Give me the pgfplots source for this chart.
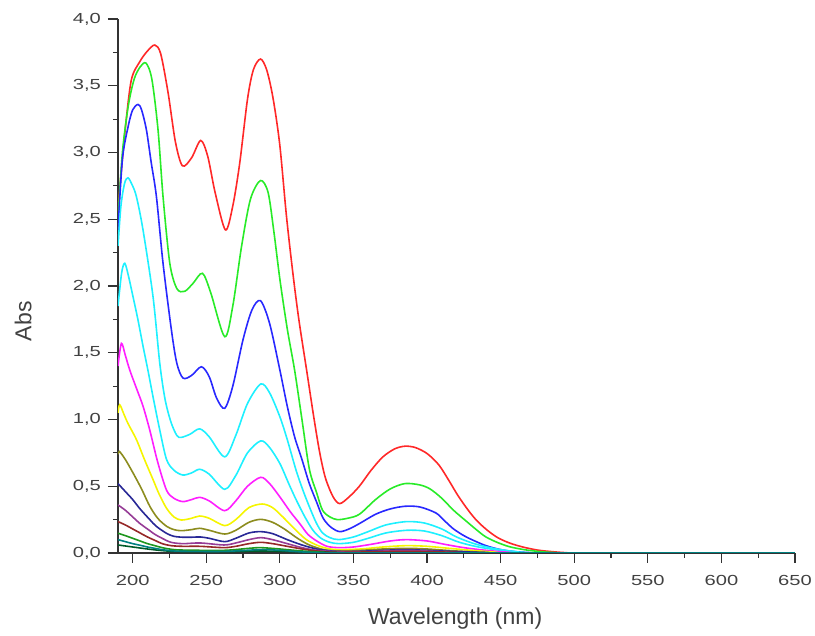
\documentclass[border=0pt]{standalone}
\usepackage{fontspec}
\setmainfont{Liberation Sans}
\usepackage{graphicx}
\usepackage{pgfplots}
\pgfplotsset{compat=1.18}
\definecolor{cRed}{RGB}{255,40,40}
\definecolor{cGreen}{RGB}{40,235,40}
\definecolor{cBlue}{RGB}{40,40,255}
\definecolor{cCyan}{RGB}{30,240,255}
\definecolor{cMag}{RGB}{255,30,255}
\definecolor{cYel}{RGB}{245,245,0}
\definecolor{cDYel}{RGB}{140,140,30}
\definecolor{cNavy}{RGB}{40,40,150}
\definecolor{cPurp}{RGB}{150,60,150}
\definecolor{cWine}{RGB}{150,40,40}
\definecolor{cOlive}{RGB}{30,150,30}
\definecolor{cDCyan}{RGB}{0,128,128}
\definecolor{cDGreen}{RGB}{0,90,40}
\definecolor{txt}{RGB}{65,65,65}
\begin{document}
\begin{tikzpicture}
\path[use as bounding box] (-59pt,-41.5pt) rectangle (348.5pt,276.5pt);
\begin{axis}[
  scale only axis, width=338.5pt, height=267pt,
  xmin=190, xmax=650, ymin=0, ymax=4,
  axis lines=left,
  axis line style={-, line width=0.65pt, black!80},
  xtick={200,250,300,350,400,450,500,550,600,650},
  ytick={0,0.5,1,1.5,2,2.5,3,3.5,4},
  minor x tick num=1, minor y tick num=1,
  tick align=outside, major tick length=5pt, minor tick length=2.5pt,
  every tick/.style={black!80, line width=0.6pt},
  /pgf/number format/assume math mode=true,
  xticklabel={\scalebox{1.38}[1]{\pgfmathprintnumber{\tick}}},
  yticklabel={\scalebox{1.38}[1]{\pgfmathprintnumber[fixed,fixed zerofill,precision=1,use comma]{\tick}}},
  tick label style={font=\fontsize{7.3}{8.5}\selectfont, text=txt},
  xticklabel style={yshift=-2.5pt},
  xlabel={Wavelength (nm)}, ylabel={Abs},
  xlabel style={at={(axis description cs:0.498,-0.122)}, anchor=center, font=\fontsize{11.5}{13}\selectfont, text=txt},
  ylabel style={at={(axis description cs:-0.140,0.434)}, anchor=center, font=\fontsize{11.5}{13}\selectfont, text=txt},
  every axis plot/.append style={line width=0.8pt, smooth, no markers},
]
% red
\addplot[cRed] coordinates {(190,2.55)(191,2.70)(194.6,3.14)(199,3.54)(204.8,3.68)(210,3.76)(215,3.805)(219,3.74)(224,3.45)(229,3.08)(233.8,2.90)(240,2.96)(246.2,3.09)(251,2.97)(256,2.70)(263,2.42)(268,2.60)(272.7,2.92)(278,3.40)(282,3.62)(286.8,3.70)(291,3.62)(295.3,3.41)(299.9,3.06)(304.5,2.52)(309,2.08)(313,1.74)(318.3,1.36)(323,1.02)(327.1,0.75)(331,0.56)(336.2,0.42)(340.7,0.37)(347,0.42)(354,0.50)(362,0.62)(370,0.72)(378,0.78)(385,0.80)(392,0.79)(400,0.745)(408,0.66)(415,0.54)(421,0.43)(428,0.32)(434,0.24)(441,0.17)(448,0.115)(456,0.075)(465,0.045)(475,0.022)(485,0.01)(495,0.002)(505,0)(650,0)};
% green
\addplot[cGreen] coordinates {(190,2.50)(193,3.00)(197,3.35)(201,3.55)(205,3.64)(209,3.67)(213,3.55)(217.2,3.17)(220.6,2.67)(225.2,2.17)(230,1.98)(235.3,1.96)(241,2.02)(247.4,2.095)(253,1.95)(262.5,1.62)(268,1.85)(274,2.30)(280,2.65)(286.8,2.79)(292,2.70)(296,2.40)(300,2.05)(305,1.68)(310,1.37)(315,1.00)(320,0.63)(325,0.45)(329,0.32)(334,0.27)(339,0.25)(346,0.26)(354,0.29)(365,0.40)(375,0.48)(385,0.52)(395,0.51)(402,0.48)(410,0.41)(418,0.32)(427,0.235)(434,0.17)(440,0.12)(448,0.078)(456,0.047)(466,0.025)(477,0.01)(488,0.002)(495,0)(650,0)};
% blue
\addplot[cBlue] coordinates {(190,2.42)(193,2.95)(197,3.20)(200,3.32)(203.6,3.36)(206,3.32)(209.3,3.17)(212.5,2.93)(216.1,2.67)(220.6,2.17)(226.3,1.67)(230,1.42)(234.2,1.31)(240,1.33)(246.7,1.395)(252,1.32)(257,1.16)(262.5,1.084)(268,1.25)(275,1.60)(281,1.82)(286.8,1.89)(293,1.72)(300,1.37)(305,1.10)(310,0.87)(315,0.70)(320,0.52)(325,0.38)(329.4,0.26)(335,0.19)(340.7,0.16)(347,0.18)(354,0.22)(365,0.29)(375,0.33)(385,0.35)(395,0.345)(406,0.30)(412,0.24)(418,0.18)(425,0.13)(431,0.097)(440,0.055)(450,0.025)(460,0.01)(470,0.003)(480,0)(650,0)};
% cyan 1
\addplot[cCyan] coordinates {(190,2.30)(192,2.60)(194.5,2.77)(196.8,2.81)(199.5,2.76)(202.5,2.67)(207,2.42)(213.8,1.92)(218.4,1.42)(222,1.15)(226,0.98)(230,0.88)(233,0.866)(239,0.89)(245.5,0.93)(252,0.87)(262.5,0.72)(270,0.88)(278,1.12)(287,1.266)(293,1.20)(300,1.02)(305,0.85)(311,0.62)(316,0.46)(321,0.32)(325,0.22)(329,0.15)(334,0.115)(340,0.10)(350,0.12)(360,0.16)(372,0.21)(386,0.235)(398,0.225)(410,0.18)(420,0.12)(432,0.07)(445,0.035)(460,0.01)(475,0)(650,0)};
% cyan 2
\addplot[cCyan] coordinates {(190,1.85)(192.5,2.10)(194.6,2.17)(197,2.08)(200.2,1.92)(203.5,1.75)(207,1.55)(210.5,1.36)(213.8,1.17)(218.4,0.92)(223,0.70)(228,0.62)(234,0.584)(240,0.60)(245.5,0.627)(252,0.59)(262.5,0.477)(270,0.58)(278,0.75)(287,0.84)(293,0.79)(300,0.67)(306,0.52)(311,0.40)(317,0.27)(322.5,0.17)(328,0.11)(334,0.08)(340,0.07)(350,0.08)(360,0.11)(372,0.15)(386,0.17)(398,0.165)(410,0.13)(422,0.08)(435,0.045)(450,0.02)(465,0.005)(480,0)(650,0)};
% magenta
\addplot[cMag] coordinates {(190,1.40)(192.3,1.57)(195,1.48)(198,1.37)(203,1.22)(207,1.10)(211.6,0.92)(217,0.68)(223,0.47)(228,0.41)(234,0.385)(240,0.40)(245.5,0.417)(252,0.39)(262.5,0.317)(270,0.39)(278,0.50)(287,0.567)(293,0.52)(300,0.42)(307,0.31)(313.5,0.22)(319,0.14)(325,0.09)(332,0.05)(340,0.04)(350,0.045)(362,0.065)(375,0.09)(386,0.10)(400,0.09)(412,0.065)(425,0.04)(440,0.02)(455,0.006)(470,0)(650,0)};
% yellow
\addplot[cYel] coordinates {(190,1.05)(191.2,1.11)(194,1.04)(196.8,0.97)(202.5,0.85)(208,0.70)(213.8,0.55)(218,0.44)(223,0.335)(228,0.27)(233,0.247)(240,0.26)(245.5,0.277)(252,0.26)(262.5,0.205)(270,0.25)(279,0.34)(288,0.367)(295,0.34)(302,0.27)(310,0.18)(318,0.10)(326,0.055)(334,0.03)(342,0.025)(355,0.03)(370,0.045)(386,0.055)(400,0.05)(415,0.035)(430,0.02)(445,0.008)(460,0)(650,0)};
% dark yellow
\addplot[cDYel] coordinates {(190,0.74)(191,0.76)(195,0.70)(200.2,0.60)(206,0.48)(211.6,0.35)(217,0.26)(223,0.20)(228,0.175)(233,0.167)(240,0.175)(245.5,0.185)(252,0.17)(262.5,0.142)(270,0.17)(279,0.23)(287,0.252)(295,0.23)(303,0.18)(312,0.11)(320,0.06)(330,0.025)(340,0.015)(355,0.02)(370,0.03)(386,0.035)(400,0.03)(420,0.015)(440,0.005)(460,0)(650,0)};
% navy
\addplot[cNavy] coordinates {(190,0.52)(195,0.46)(200,0.40)(205,0.33)(211.6,0.25)(216,0.20)(223,0.147)(228,0.125)(234,0.118)(240,0.118)(246,0.12)(252,0.11)(262.5,0.085)(270,0.11)(279,0.15)(287,0.16)(295,0.145)(305,0.10)(315,0.06)(325,0.03)(335,0.015)(345,0.01)(360,0.015)(385,0.025)(410,0.015)(440,0.003)(460,0)(650,0)};
% purple
\addplot[cPurp] coordinates {(190,0.36)(195,0.32)(200,0.27)(205,0.22)(210,0.18)(215,0.14)(220,0.11)(226,0.08)(234,0.07)(246,0.075)(262,0.06)(270,0.075)(279,0.10)(287,0.115)(295,0.10)(305,0.07)(315,0.04)(325,0.02)(340,0.01)(360,0.01)(385,0.02)(410,0.01)(440,0)(650,0)};
% wine
\addplot[cWine] coordinates {(190,0.235)(195,0.21)(200,0.18)(205,0.15)(210,0.12)(215,0.095)(220,0.07)(226,0.055)(234,0.05)(246,0.05)(262,0.04)(270,0.05)(279,0.07)(287,0.08)(295,0.07)(305,0.05)(315,0.03)(325,0.015)(340,0.005)(385,0.012)(420,0.005)(440,0)(650,0)};
% dark green
\addplot[cDGreen] coordinates {(190,0.06)(200,0.045)(210,0.03)(220,0.018)(230,0.012)(262,0.01)(287,0.015)(320,0.008)(340,0.003)(360,0)(650,0)};
% olive green
\addplot[cOlive] coordinates {(190,0.148)(195,0.13)(200,0.11)(205,0.09)(210,0.07)(215,0.055)(220,0.04)(226,0.028)(234,0.022)(262,0.02)(279,0.035)(287,0.04)(300,0.03)(315,0.015)(330,0.005)(345,0)(650,0)};
% dark cyan
\addplot[cDCyan] coordinates {(190,0.10)(195,0.085)(200,0.07)(205,0.058)(210,0.045)(215,0.035)(220,0.025)(226,0.017)(234,0.013)(262,0.012)(287,0.025)(300,0.02)(315,0.008)(330,0.002)(345,0)(650,0)};
\end{axis}
\end{tikzpicture}
\end{document}
